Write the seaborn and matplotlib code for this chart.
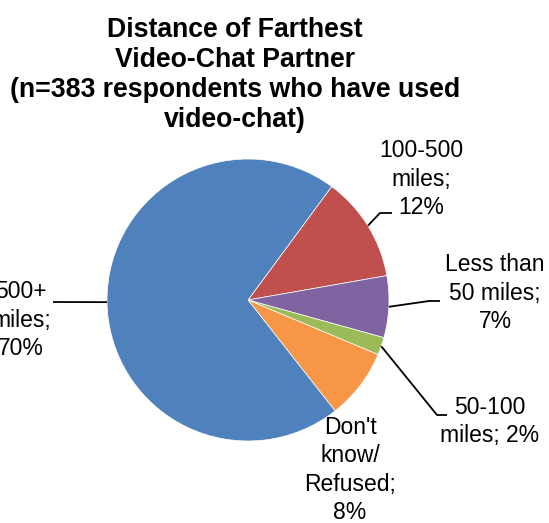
import numpy as np
import matplotlib
matplotlib.use("Agg")
import matplotlib.pyplot as plt
import seaborn as sns

sns.set_theme(style="white")
plt.rcParams["font.family"] = ["Liberation Sans", "DejaVu Sans"]

# Survey answers, in clockwise order starting at the 100-500 miles slice
categories = ["100-500\nmiles;", "Less than\n50 miles;", "50-100\nmiles;", "Don't\nknow/\nRefused;", "500+\nmiles;"]
percents = [12, 7, 2, 8, 70]
colors = ["#C0504D", "#8064A2", "#9BBB59", "#F79646", "#4F81BD"]

W, H = 549, 523
fig = plt.figure(figsize=(W / 100, H / 100), dpi=100)
ax = fig.add_axes([0, 0, 1, 1])

cx, cy, r = 248, H - 300, 141
wedges, _ = ax.pie(percents, colors=colors, startangle=53.6, counterclock=False,
                   center=(cx, cy), radius=r,
                   wedgeprops=dict(edgecolor="white", linewidth=0.5))
ax.set_xlim(0, W)
ax.set_ylim(0, H)
ax.set_aspect("equal")
ax.axis("off")


def edge_point(w):
    mid = np.deg2rad((w.theta1 + w.theta2) / 2)
    return cx + r * np.cos(mid), cy + r * np.sin(mid)


def label_string(cat, p):
    if cat.startswith("50-100"):
        return cat.replace("miles;", "miles; %d%%" % p)
    return "%s\n%d%%" % (cat, p)


# label placement: x centre, last baseline, leader elbow points (pixels from top)
placement = [
    (421, 214, [(380, 213), (392, 213)]),
    (495, 328, [(429, 301), (440, 301)]),
    (490, 442, [(437, 415), (447, 415)]),
    (350, 519, None),
    (21, 355, [(53, 302)]),
]

for w, cat, p, (tx, ty, elbow) in zip(wedges, categories, percents, placement):
    ax.text(tx, H - ty, label_string(cat, p), ha="center", va="baseline", fontsize=16.5,
            color="black", linespacing=1.3, multialignment="center")
    if elbow:
        x0, y0 = edge_point(w)
        xs = [x0] + [e[0] for e in elbow]
        ys = [y0] + [H - e[1] for e in elbow]
        ax.plot(xs, ys, color="black", lw=1.3, solid_capstyle="butt")

ax.text(235, H - 127, "Distance of Farthest\nVideo-Chat Partner\n(n=383 respondents who have used\nvideo-chat)",
        ha="center", va="baseline", fontsize=19.2, fontweight="bold", color="black",
        linespacing=1.2)

fig.savefig("out.png", dpi=100)
